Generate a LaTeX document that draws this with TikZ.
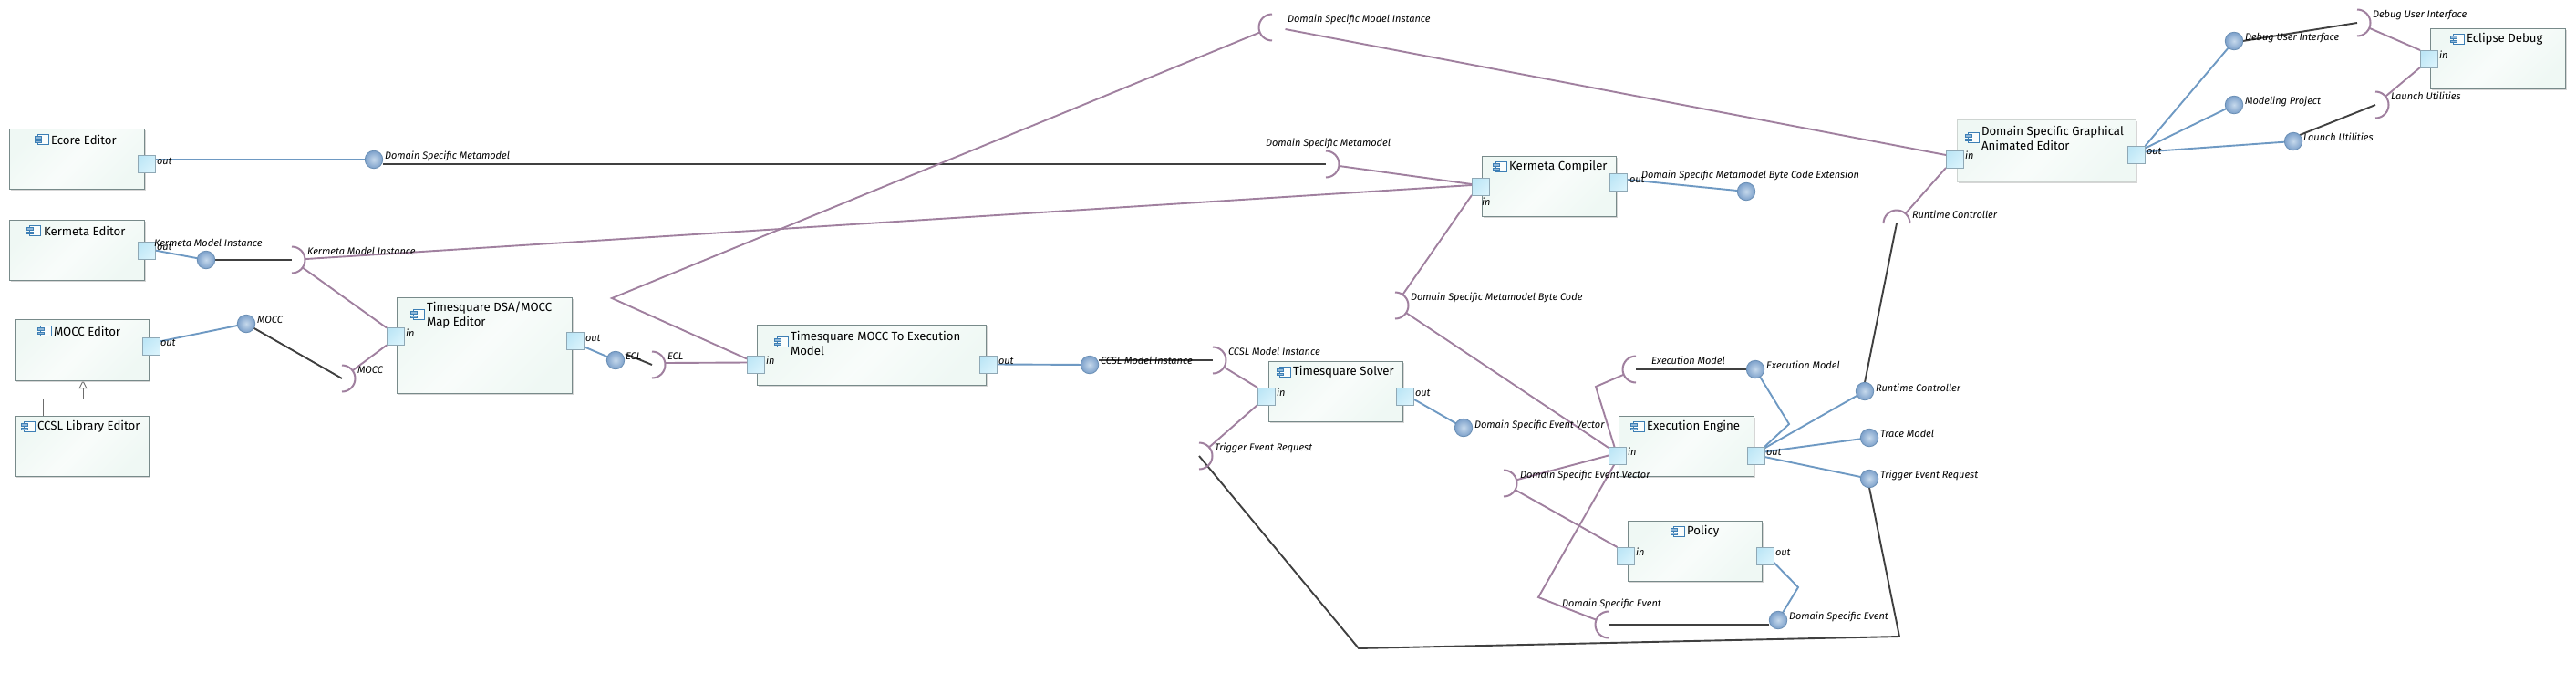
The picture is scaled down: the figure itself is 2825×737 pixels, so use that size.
\documentclass[tikz,border=0pt]{standalone}
\usepackage{fontspec}
\setmainfont{Fira Sans}
\usetikzlibrary{arrows.meta,shadows,backgrounds}
\definecolor{linkblue}{HTML}{6E99C3}
\definecolor{linkpurple}{HTML}{A0809F}
\definecolor{linkdark}{HTML}{404040}
\definecolor{boxedge}{HTML}{788A8A}
\definecolor{boxtint}{HTML}{EFF8F4}
\definecolor{porttintA}{HTML}{BDE6F6}
\definecolor{porttintB}{HTML}{D9F3FC}
\definecolor{portedge}{HTML}{8FA8B5}
\definecolor{ballin}{HTML}{C6D9EC}
\definecolor{ballout}{HTML}{7CA0CA}
\definecolor{balledge}{HTML}{6A8FB5}
\definecolor{iconblue}{HTML}{3D7FB5}
\definecolor{iconfill}{HTML}{8FB7D8}
\tikzset{
  comp/.style={rectangle,draw=boxedge,line width=.9pt,inner sep=0pt,outer sep=0pt,anchor=north west,
    left color=boxtint,right color=boxtint,middle color=white!60!boxtint,shading angle=45,
    drop shadow={shadow xshift=2pt,shadow yshift=-2pt,fill=gray!40,opacity=.8}},
  paleComp/.style={comp,draw=boxtint!70!gray},
  portbox/.style={rectangle,draw=portedge,line width=.9pt,inner sep=0pt,outer sep=0pt,minimum width=19pt,minimum height=19pt,
    left color=porttintA,right color=porttintB,shading angle=45},
  provided/.style={circle,draw=balledge,line width=.8pt,inner sep=0pt,outer sep=0pt,minimum size=19.5pt,inner color=ballin,outer color=ballout},
  socket/.style={circle,inner sep=0pt,outer sep=0pt,minimum size=29pt},
  sockarc/.style={draw=linkpurple,line width=2pt},
  bluelink/.style={draw=linkblue,line width=1.9pt},
  purplelink/.style={draw=linkpurple,line width=1.9pt},
  darklink/.style={draw=linkdark,line width=1.9pt},
  genlink/.style={draw=gray!85!black,line width=.9pt,-{Triangle[open,length=9pt,width=9pt,fill=white]}},
  lbl/.style={anchor=west,inner sep=0pt,outer sep=0pt,text height=8pt,text depth=2pt,font=\fontsize{11}{12}\selectfont\itshape},
  ttl/.style={anchor=west,inner sep=0pt,outer sep=0pt,align=left,font=\fontsize{13.2}{16}\selectfont},
}
\newcommand{\comp}[6][comp]{\node[#1,minimum width=#5pt,minimum height=#6pt] (#2) at (#3,#4) {};}
\newcommand{\portat}[3]{\node[portbox] (#1) at (#2,#3) {};}
\newcommand{\ballat}[3]{\node[provided] (#1) at (#2,#3) {};}
\newcommand{\sockR}[3]{\node[socket] (#1) at (#2,#3) {};\draw[sockarc] (#1.north) arc[start angle=90,end angle=-90,radius=14.5pt];}
\newcommand{\sockL}[3]{\node[socket] (#1) at (#2,#3) {};\draw[sockarc] (#1.north) arc[start angle=90,end angle=270,radius=14.5pt];}
\newcommand{\sockU}[3]{\node[socket] (#1) at (#2,#3) {};\draw[sockarc] (#1.west) arc[start angle=180,end angle=0,radius=14.5pt];}
\newcommand{\lab}[4]{\node[lbl] (#1) at (#2,#3) {#4};}
\newcommand{\ttlat}[4]{\node[ttl] (#1) at (#2,#3) {#4};}
\newcommand{\compicon}[2]{%
  \draw[iconblue,line width=.9pt,fill=white!70!boxtint] (#1-4.5,#2-5.5) rectangle (#1+7,#2+5.5);
  \draw[iconblue,line width=.6pt,fill=iconfill] (#1-8,#2-3.5) rectangle (#1-1,#2-.8);
  \draw[iconblue,line width=.6pt,fill=iconfill] (#1-8,#2+.8) rectangle (#1-1,#2+3.5);}
\begin{document}
\begin{tikzpicture}[x=1pt,y=-1pt]
\useasboundingbox (0,0) rectangle (2825,737);
% components
\comp{eEcore}{10}{141}{148}{66}
\comp{eKerm}{10}{241}{148}{66}
\comp{eMocc}{16}{350}{147}{67}
\comp{eCcsl}{16}{456}{147}{66}
\comp{eMap}{435}{326}{192}{105}
\comp{eToExec}{830}{356}{251}{66}
\comp{eSolver}{1391}{396}{147}{66}
\comp{eComp}{1625}{171}{147}{66}
\comp{eEngine}{1775}{456}{148}{66}
\comp{ePolicy}{1785}{571}{147}{66}
\comp[paleComp]{eGraph}{2146}{131}{196}{68}
\comp{eDebug}{2665}{31}{148}{66}
% icons
\compicon{46}{153}
\compicon{37}{253}
\compicon{49}{363}
\compicon{31}{468}
\compicon{458}{345}
\compicon{857}{375}
\compicon{1408}{408}
\compicon{1645}{183}
\compicon{1796}{468}
\compicon{1840}{583}
\compicon{2163}{151}
\compicon{2695}{43}
% titles
\ttlat{tEcore}{56}{153}{Ecore Editor}
\ttlat{tKerm}{48}{253}{Kermeta Editor}
\ttlat{tMocc}{59}{363}{MOCC Editor}
\ttlat{tCcsl}{41}{468}{CCSL Library Editor}
\ttlat{tMap}{468}{346}{Timesquare DSA/MOCC\\Map Editor}
\ttlat{tToExec}{867}{376}{Timesquare MOCC To Execution\\Model}
\ttlat{tSolver}{1418}{408}{Timesquare Solver}
\ttlat{tComp}{1655}{183}{Kermeta Compiler}
\ttlat{tEngine}{1806}{468}{Execution Engine}
\ttlat{tPolicy}{1850}{583}{Policy}
\ttlat{tGraph}{2173}{151}{Domain Specific Graphical\\Animated Editor}
\ttlat{tDebug}{2705}{43}{Eclipse Debug}
% ports
\portat{pEcore}{160.5}{179.5}
\portat{pKerm}{160.5}{274.5}
\portat{pMocc}{165.5}{379.5}
\portat{pMapIn}{433.5}{369}
\portat{pMapOut}{630.5}{374}
\portat{pExIn}{828.5}{399.5}
\portat{pExOut}{1083.5}{399.5}
\portat{pSolIn}{1388.5}{434.5}
\portat{pSolOut}{1540.5}{434.5}
\portat{pCompIn}{1623.5}{204.5}
\portat{pCompOut}{1775}{200}
\portat{pEngIn}{1773.5}{499.5}
\portat{pEngOut}{1925.5}{499.5}
\portat{pPolIn}{1783}{609.5}
\portat{pPolOut}{1935.5}{609.5}
\portat{pGraphIn}{2143.5}{174.5}
\portat{pGraphOut}{2343}{169.5}
\portat{pDebugIn}{2663.5}{64.5}
% provided balls
\ballat{bDsm}{410}{175}
\ballat{bKmi}{226}{285}
\ballat{bMocc}{270}{355}
\ballat{bEcl}{675}{395}
\ballat{bCcsl}{1195}{400}
\ballat{bEvec}{1605}{469}
\ballat{bExt}{1915}{210}
\ballat{bExec}{1925}{405}
\ballat{bRun}{2045}{429}
\ballat{bTrace}{2050}{480}
\ballat{bTrig}{2050}{525}
\ballat{bEvent}{1950}{680}
\ballat{bUi}{2450}{45}
\ballat{bProj}{2450}{115}
\ballat{bLaunch}{2515}{155}
% required sockets
\sockR{sDsm}{1454}{180}
\sockR{sKmi}{320}{285}
\sockR{sMocc}{375}{415}
\sockR{sEcl}{715}{400}
\sockR{sCcsl}{1330}{395}
\sockR{sTrig}{1315}{500}
\sockR{sByte}{1530}{335}
\sockR{sEvec}{1649}{530}
\sockR{sUi}{2585}{25}
\sockR{sLaunch}{2605}{115}
\sockL{sInst}{1395}{30}
\sockL{sExec}{1794}{405}
\sockL{sEvent}{1764}{685}
\sockU{sRun}{2080}{245}
% free bends
\coordinate (kInst) at (671,327);
\coordinate (kBottomL) at (1490,711);
\coordinate (kBottomR) at (2083,698);
\coordinate (kExec) at (1750,424);
\coordinate (kEvent) at (1687,655);
\coordinate (kBlueExec) at (1962,465);
\coordinate (kBlueEvent) at (1972,644);
\coordinate (kGen) at (47,437);
% connectors
\begin{scope}[on background layer]
\fill[white] (0,0) rectangle (2825,737);
\draw[genlink] ([xshift=-42.5pt]eCcsl.north) -- (kGen) -| ([xshift=1.5pt]eMocc.south);
% blue
\draw[bluelink] ([yshift=4.5pt]pEcore.east) -- (bDsm);
\draw[bluelink] (pKerm.east) -- (bKmi);
\draw[bluelink] ([yshift=5pt]pMocc.east) -- (bMocc);
\draw[bluelink] ([yshift=-6pt]pMapOut.east) -- (bEcl);
\draw[bluelink] (pExOut.east) -- (bCcsl);
\draw[bluelink] ([yshift=-3pt]pSolOut.east) -- (bEvec);
\draw[bluelink] ([yshift=3pt]pCompOut.east) -- (bExt);
\draw[bluelink] (pEngOut.north east) -- (kBlueExec) -- (bExec);
\draw[bluelink] ([yshift=8pt]pEngOut.east) -- (bRun);
\draw[bluelink] ([yshift=4pt]pEngOut.east) -- (bTrace);
\draw[bluelink] ([yshift=-1.5pt]pEngOut.east) -- (bTrig);
\draw[bluelink] ([yshift=-7pt]pPolOut.east) -- (kBlueEvent) -- (bEvent);
\draw[bluelink] (pGraphOut.north east) -- (bUi);
\draw[bluelink] ([yshift=7pt]pGraphOut.east) -- (bProj);
\draw[bluelink] ([yshift=3pt]pGraphOut.east) -- (bLaunch);
% dark
\draw[darklink] ([yshift=-5pt]bDsm.east) -- (sDsm.center);
\draw[darklink] (bKmi.east) -- (sKmi.center);
\draw[darklink] (bMocc) -- (sMocc.center);
\draw[darklink] ([xshift=4pt]bEcl.north east) -- (sEcl.center);
\draw[darklink] ([yshift=5pt]bCcsl.east) -- (sCcsl.center);
\draw[darklink] (bTrig.south) -- (kBottomR) -- (kBottomL) -- (sTrig.center);
\draw[darklink] (bExec.west) -- (sExec.center);
\draw[darklink] (bRun.north) -- (sRun.center);
\draw[darklink] ([yshift=-5pt]bEvent.west) -- (sEvent.center);
\draw[darklink] (bUi.east) -- (sUi.center);
\draw[darklink] (bLaunch.north east) -- (sLaunch.center);
% purple
\draw[purplelink] (sDsm) -- ([yshift=2.5pt]pCompIn.west);
\draw[purplelink] (sKmi) -- ([yshift=1.5pt]pCompIn.west);
\draw[purplelink] (sByte) -- (pCompIn.south west);
\draw[purplelink] (sByte) -- ([yshift=8.5pt]pEngIn.west);
\draw[purplelink] (sKmi) -- (pMapIn.north west);
\draw[purplelink] (sMocc) -- (pMapIn.south west);
\draw[purplelink] ([yshift=2pt]sEcl.east) -- ([yshift=2pt]pExIn.west);
\draw[purplelink] (sInst) -- (kInst) -- ([yshift=6pt]pExIn.west);
\draw[purplelink] ([yshift=-2pt]sInst.east) -- ([yshift=4.5pt]pGraphIn.west);
\draw[purplelink] (sRun) -- (pGraphIn.south west);
\draw[purplelink] (sCcsl) -- (pSolIn.north west);
\draw[purplelink] (sTrig) -- (pSolIn.south west);
\draw[purplelink] (sEvec) -- (pEngIn.west);
\draw[purplelink] (sEvec) -- (pPolIn.north west);
\draw[purplelink] (sExec) -- (kExec) -- ([xshift=-3pt]pEngIn.north);
\draw[purplelink] (sEvent) -- (kEvent) -- ([xshift=-3pt]pEngIn.south);
\draw[purplelink] (sUi) -- (pDebugIn.north west);
\draw[purplelink] (sLaunch) -- (pDebugIn.south west);
\end{scope}
% port labels
\lab{l01}{172}{177}{out}
\lab{l02}{172}{271}{out}
\lab{l03}{176}{376}{out}
\lab{l04}{445}{366}{in}
\lab{l05}{642}{371}{out}
\lab{l06}{840}{396}{in}
\lab{l07}{1095}{396}{out}
\lab{l08}{1400}{431}{in}
\lab{l09}{1552}{431}{out}
\lab{l10}{1625}{222}{in}
\lab{l11}{1787}{197}{out}
\lab{l12}{1785}{496}{in}
\lab{l13}{1937}{496}{out}
\lab{l14}{1794}{606}{in}
\lab{l15}{1947}{606}{out}
\lab{l16}{2155}{171}{in}
\lab{l17}{2354}{166}{out}
\lab{l18}{2675}{61}{in}
% interface labels
\lab{i01}{422}{171}{Domain Specific Metamodel}
\lab{i02}{1388}{157}{Domain Specific Metamodel}
\lab{i03}{169}{267}{Kermeta Model Instance}
\lab{i04}{337}{276}{Kermeta Model Instance}
\lab{i05}{282}{351}{MOCC}
\lab{i06}{392}{406}{MOCC}
\lab{i07}{686}{391}{ECL}
\lab{i08}{732}{391}{ECL}
\lab{i09}{1412}{21}{Domain Specific Model Instance}
\lab{i10}{1800}{192}{Domain Specific Metamodel Byte Code Extension}
\lab{i11}{1547}{326}{Domain Specific Metamodel Byte Code}
\lab{i12}{1207}{396}{CCSL Model Instance}
\lab{i13}{1347}{386}{CCSL Model Instance}
\lab{i14}{1332}{491}{Trigger Event Request}
\lab{i15}{1617}{466}{Domain Specific Event Vector}
\lab{i16}{1667}{521}{Domain Specific Event Vector}
\lab{i17}{1811}{396}{Execution Model}
\lab{i18}{1937}{401}{Execution Model}
\lab{i19}{2057}{426}{Runtime Controller}
\lab{i20}{2062}{476}{Trace Model}
\lab{i21}{2062}{521}{Trigger Event Request}
\lab{i22}{1713}{662}{Domain Specific Event}
\lab{i23}{1962}{676}{Domain Specific Event}
\lab{i24}{2097}{236}{Runtime Controller}
\lab{i25}{2462}{41}{Debug User Interface}
\lab{i26}{2602}{16}{Debug User Interface}
\lab{i27}{2462}{111}{Modeling Project}
\lab{i28}{2526}{151}{Launch Utilities}
\lab{i29}{2622}{106}{Launch Utilities}
\end{tikzpicture}
\end{document}
